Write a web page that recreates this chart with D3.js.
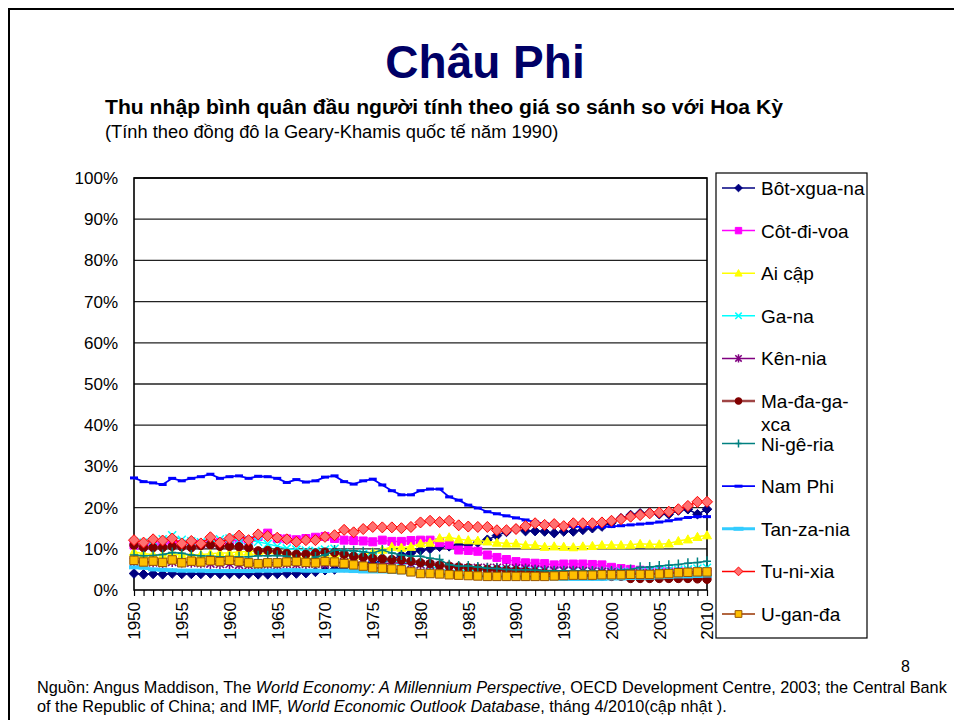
<!DOCTYPE html>
<html>
<head>
<meta charset="utf-8">
<script src="https://cdn.jsdelivr.net/npm/d3@7"></script>
<style>
  body { margin: 0; background: #fff; font-family: Arial, "Liberation Sans", sans-serif; }
</style>
</head>
<body>
<script>
// Data (percent of US GDP per capita, 1950-2010)
const years = d3.range(1950, 2011);

const botswana = [4.0, 3.8, 3.9, 3.8, 4.0, 3.9, 3.9, 3.9, 4.0, 3.9, 3.9, 3.9, 3.9, 3.8, 3.8, 3.9, 4.0, 4.0, 4.1, 4.4,
  4.8, 5.0, 5.5, 6.0, 6.3, 6.8, 7.0, 7.3, 8.5, 9.0, 9.6, 10.0, 10.5, 10.6, 11.0, 11.0, 11.5, 12.2, 13.2, 14.1,
  14.8, 14.3, 14.3, 14.2, 13.8, 14.2, 14.2, 14.6, 15.0, 15.4, 16.3, 17.4, 18.2, 18.6, 18.8, 18.4, 18.4, 19.3, 19.6, 18.4, 19.6];
const coteDivoire = [10.9, 10.8, 11.0, 11.2, 11.5, 11.0, 11.3, 11.2, 11.4, 11.5, 11.9, 12.2, 12.0, 13.0, 13.8, 12.5, 12.4, 12.2, 12.5, 12.8,
  13.0, 12.5, 12.1, 12.0, 11.9, 11.7, 12.1, 11.8, 11.8, 12.0, 12.1, 12.1, 11.5, 11.0, 9.7, 9.6, 9.4, 8.5, 7.9, 7.4,
  6.9, 6.6, 6.5, 6.4, 6.1, 6.3, 6.3, 6.3, 6.2, 6.1, 5.5, 5.2, 5.0, 4.8, 4.7, 4.6, 4.5, 4.5, 4.4, 4.4, 4.3];
const egypt = [9.3, 8.8, 8.6, 8.5, 8.7, 8.5, 8.5, 8.6, 8.8, 9.0, 9.0, 9.3, 9.3, 9.5, 9.7, 9.6, 9.2, 8.8, 8.5, 8.4,
  8.3, 8.3, 8.2, 8.2, 8.5, 9.2, 9.8, 10.5, 10.3, 10.5, 11.3, 11.5, 12.6, 12.8, 12.3, 12.1, 12.0, 11.8, 11.5, 11.3,
  11.3, 10.9, 10.9, 10.5, 10.6, 10.5, 10.4, 10.6, 10.7, 10.9, 10.9, 10.9, 11.0, 11.2, 11.1, 11.1, 11.3, 11.9, 12.3, 12.9, 13.3];
const ghana = [11.7, 11.5, 11.9, 12.3, 13.3, 12.2, 11.8, 11.6, 11.4, 12.3, 12.5, 12.2, 12.0, 11.7, 11.2, 10.6, 10.1, 9.8, 9.6, 9.5,
  9.8, 10.0, 9.0, 8.6, 8.8, 7.8, 7.2, 7.0, 6.9, 6.4, 6.2, 5.8, 5.1, 4.7, 4.8, 4.8, 4.8, 4.8, 4.8, 4.8,
  4.6, 4.6, 4.6, 4.6, 4.6, 4.6, 4.5, 4.5, 4.5, 4.5, 4.4, 4.4, 4.4, 4.5, 4.6, 4.7, 4.8, 4.9, 5.0, 5.2, 5.4];
const kenya = [6.8, 6.6, 6.7, 6.5, 6.8, 6.7, 6.6, 6.5, 6.4, 6.3, 6.3, 6.1, 6.0, 6.1, 6.2, 6.0, 6.3, 6.2, 6.3, 6.4,
  6.4, 6.6, 6.8, 6.8, 6.6, 6.4, 6.3, 6.6, 6.5, 6.3, 6.2, 6.1, 5.9, 5.6, 5.4, 5.3, 5.4, 5.4, 5.4, 5.3,
  5.3, 5.2, 5.0, 4.8, 4.7, 4.7, 4.7, 4.6, 4.5, 4.4, 4.3, 4.2, 4.1, 4.0, 4.0, 4.1, 4.1, 4.2, 4.0, 3.9, 3.9];
const madagascar = [10.9, 10.3, 10.3, 10.3, 10.6, 10.5, 10.3, 10.8, 11.0, 10.6, 10.6, 10.5, 10.3, 9.5, 9.6, 9.3, 8.9, 8.7, 8.7, 8.9,
  9.2, 9.1, 8.7, 8.2, 8.0, 7.7, 7.6, 7.4, 7.3, 7.0, 6.6, 6.4, 6.0, 5.8, 5.6, 5.4, 5.2, 5.0, 4.9, 4.8,
  4.7, 4.5, 4.3, 4.1, 3.9, 3.8, 3.6, 3.5, 3.4, 3.3, 3.3, 3.3, 2.8, 2.8, 2.8, 2.8, 2.8, 2.8, 2.8, 2.7, 2.6];
const nigeria = [8.5, 8.3, 8.4, 8.6, 9.1, 8.9, 8.5, 8.3, 8.2, 8.1, 8.1, 8.0, 8.1, 8.3, 8.3, 8.4, 8.2, 7.4, 7.0, 8.0,
  8.5, 9.7, 9.6, 9.5, 9.3, 9.0, 9.7, 9.0, 8.5, 8.2, 8.2, 7.7, 7.4, 6.1, 5.8, 5.8, 5.6, 5.3, 5.2, 5.0,
  4.9, 4.9, 4.8, 4.7, 4.6, 4.6, 4.6, 4.6, 4.6, 4.5, 4.6, 4.8, 5.0, 5.5, 5.6, 5.8, 6.0, 6.2, 6.5, 6.7, 7.0];
const southAfrica = [27.2, 26.3, 26.0, 25.6, 27.1, 26.5, 27.1, 27.5, 28.1, 27.1, 27.5, 27.7, 27.1, 27.6, 27.5, 27.1, 26.1, 26.8, 26.2, 26.5,
  27.4, 27.7, 26.3, 25.7, 26.5, 26.9, 25.5, 24.1, 23.1, 23.1, 24.1, 24.5, 24.5, 22.6, 21.8, 20.6, 19.9, 19.0, 18.5, 18.0,
  17.5, 17.0, 16.5, 16.1, 15.8, 15.5, 15.4, 15.3, 15.3, 15.3, 15.4, 15.6, 15.8, 16.0, 16.2, 16.5, 16.8, 17.2, 17.6, 17.8, 17.8];
const tanzania = [5.5, 5.4, 5.0, 4.9, 4.8, 4.7, 4.7, 4.7, 4.6, 4.6, 4.6, 4.6, 4.6, 4.7, 4.7, 4.7, 4.8, 4.8, 4.7, 4.7,
  4.6, 4.7, 4.7, 4.6, 4.5, 4.5, 4.5, 4.4, 4.3, 4.2, 4.1, 3.9, 3.8, 3.6, 3.5, 3.4, 3.3, 3.3, 3.3, 3.2,
  3.2, 3.1, 3.0, 2.9, 2.8, 2.7, 2.7, 2.7, 2.7, 2.7, 2.8, 2.8, 2.9, 3.0, 3.0, 3.1, 3.2, 3.3, 3.3, 3.4, 3.5];
const tunisia = [12.1, 11.5, 12.3, 12.0, 12.5, 11.3, 11.9, 11.3, 12.8, 11.5, 12.5, 13.2, 12.1, 13.5, 13.1, 12.7, 12.3, 11.7, 12.1, 12.1,
  12.9, 13.3, 14.6, 14.0, 14.8, 15.3, 15.2, 15.2, 15.0, 15.3, 16.4, 16.8, 16.5, 16.8, 15.7, 15.4, 15.3, 15.3, 14.5, 14.5,
  14.8, 15.5, 16.2, 15.8, 16.0, 15.5, 16.2, 16.2, 16.2, 16.4, 16.8, 17.2, 17.8, 18.2, 18.6, 18.8, 19.0, 19.6, 20.4, 21.4, 21.4];
const uganda = [7.2, 6.8, 7.0, 6.7, 7.3, 6.6, 7.0, 6.8, 7.1, 6.9, 7.2, 6.9, 6.6, 6.4, 6.6, 6.6, 6.8, 6.9, 6.7, 6.6,
  6.9, 6.8, 6.4, 6.1, 5.8, 5.4, 5.3, 5.1, 4.9, 4.4, 4.0, 4.0, 3.9, 3.7, 3.6, 3.5, 3.4, 3.3, 3.3, 3.3,
  3.3, 3.3, 3.3, 3.3, 3.4, 3.5, 3.6, 3.6, 3.6, 3.7, 3.7, 3.7, 3.8, 3.8, 3.8, 3.9, 4.0, 4.2, 4.3, 4.4, 4.4];

const yTicks = d3.range(0, 101, 10);

// series table for drawing (r = marker half size)
const series = [
  { name: ["Bôt-xgua-na"], values: botswana, line: "#000080", lw: 1.5, mk: "diamond", r: 4.8, fill: "#000080", stroke: "#000080" },
  { name: ["Côt-đi-voa"], values: coteDivoire, line: "#ff00ff", lw: 1.5, mk: "square", r: 4, fill: "#ff00ff", stroke: "#ff00ff" },
  { name: ["Ai cập"], values: egypt, line: "#ffff00", lw: 1.5, mk: "triangle", r: 4.5, fill: "#ffff00", stroke: "#ffff00" },
  { name: ["Ga-na"], values: ghana, line: "#00ffff", lw: 1.5, mk: "x", r: 4, fill: "none", stroke: "#00ffff" },
  { name: ["Kên-nia"], values: kenya, line: "#800080", lw: 1.5, mk: "star", r: 4, fill: "none", stroke: "#800080" },
  { name: ["Ma-đa-ga-", "xca"], values: madagascar, line: "#a04545", lw: 2.5, mk: "circle", r: 4.2, fill: "#800000", stroke: "#800000" },
  { name: ["Ni-gê-ria"], values: nigeria, line: "#008080", lw: 1.5, mk: "plus", r: 5, fill: "none", stroke: "#008080" },
  { name: ["Nam Phi"], values: southAfrica, line: "#0000ff", lw: 1.8, mk: "dash", r: 3, fill: "#0000ff", stroke: "none" },
  { name: ["Tan-za-nia"], values: tanzania, line: "#33ccff", lw: 3, mk: "dash", r: 4, fill: "#33ccff", stroke: "none" },
  { name: ["Tu-ni-xia"], values: tunisia, line: "#ff0000", lw: 1.5, mk: "diamond", r: 5.5, fill: "#ff7070", stroke: "#ff0000" },
  { name: ["U-gan-đa"], values: uganda, line: "#993300", lw: 1.5, mk: "square", r: 4.2, fill: "#ffbf00", stroke: "#995500" }
];

const w = 954, h = 720;
const plot = { left: 134, right: 707, top: 178, bottom: 590 };

const svg = d3.select("body").append("svg")
  .attr("width", w)
  .attr("height", h)
  .style("display", "block");

// slide frame
svg.append("path")
  .attr("d", `M9,${h}V9H${w}`)
  .attr("fill", "none")
  .attr("stroke", "#000")
  .attr("stroke-width", 2);

// titles
svg.append("text")
  .attr("x", 485).attr("y", 78)
  .attr("text-anchor", "middle")
  .attr("font-size", 46).attr("font-weight", "bold")
  .attr("fill", "#000066")
  .text("Châu Phi");

svg.append("text")
  .attr("x", 105).attr("y", 114)
  .attr("font-size", 19.5).attr("font-weight", "bold")
  .attr("textLength", 678).attr("lengthAdjust", "spacingAndGlyphs")
  .text("Thu nhập bình quân đầu người tính theo giá so sánh so với Hoa Kỳ");

svg.append("text")
  .attr("x", 105).attr("y", 138)
  .attr("font-size", 18.3)
  .text("(Tính theo đồng đô la Geary-Khamis quốc tế năm 1990)");

// scales
const x = d3.scaleLinear().domain([1950, 2010]).range([plot.left, plot.right]);
const y = d3.scaleLinear().domain([0, 100]).range([plot.bottom, plot.top]);

// gridlines
svg.append("g")
  .selectAll("line")
  .data(yTicks.filter(d => d > 0))
  .join("line")
  .attr("x1", plot.left).attr("x2", plot.right)
  .attr("y1", d => y(d)).attr("y2", d => y(d))
  .attr("stroke", "#222").attr("stroke-width", 1.3);

// y axis
const yAxis = svg.append("g")
  .attr("transform", `translate(${plot.left},0)`)
  .call(d3.axisLeft(y).tickValues(yTicks).tickFormat(d => d + "%").tickSize(0).tickPadding(16));
yAxis.select(".domain").remove();
yAxis.selectAll("text").attr("font-size", 17).attr("font-family", "Arial, 'Liberation Sans', sans-serif").attr("fill", "#000");

// x axis
const xAxis = svg.append("g")
  .attr("transform", `translate(0,${plot.bottom})`)
  .call(d3.axisBottom(x).tickValues(years).tickSize(6).tickFormat(d => d % 5 === 0 ? d : ""));
xAxis.select(".domain").remove();
xAxis.selectAll(".tick line").attr("stroke", "#000").attr("stroke-width", 1.2);
xAxis.selectAll("text")
  .attr("font-size", 17)
  .attr("font-family", "Arial, 'Liberation Sans', sans-serif")
  .attr("fill", "#000")
  .attr("transform", "rotate(-90)")
  .attr("x", -12).attr("y", 0).attr("dy", "0.35em")
  .style("text-anchor", "end");

// plot frame
svg.append("rect")
  .attr("x", plot.left).attr("y", plot.top)
  .attr("width", plot.right - plot.left).attr("height", plot.bottom - plot.top)
  .attr("fill", "none").attr("stroke", "#000").attr("stroke-width", 1.6);

// marker drawing
function marker(sel, s, k) {
  let d;
  if (s.mk === "diamond") d = `M0,${-k}L${k},0L0,${k}L${-k},0Z`;
  else if (s.mk === "square") d = `M${-k},${-k}H${k}V${k}H${-k}Z`;
  else if (s.mk === "triangle") d = `M0,${-k}L${k},${k * 0.8}H${-k}Z`;
  else if (s.mk === "circle") d = d3.symbol(d3.symbolCircle, Math.PI * k * k)();
  else if (s.mk === "x") d = `M${-k},${-k}L${k},${k}M${-k},${k}L${k},${-k}`;
  else if (s.mk === "star") d = `M${-k},${-k}L${k},${k}M${-k},${k}L${k},${-k}M0,${-k - 1}V${k + 1}`;
  else if (s.mk === "plus") d = `M${-k + 1},0H${k - 1}M0,${-k}V${k}`;
  else if (s.mk === "dash") d = `M${-k - 1},${-k / 2}H${k + 1}V${k / 2}H${-k - 1}Z`;
  sel.append("path")
    .attr("d", d)
    .attr("fill", s.fill)
    .attr("stroke", s.stroke)
    .attr("stroke-width", s.fill === "none" ? 1.5 : 1);
}

const line = d3.line().x((d, i) => x(years[i])).y(d => y(d));

series.forEach(s => {
  const g = svg.append("g");
  g.append("path")
    .datum(s.values)
    .attr("d", line)
    .attr("fill", "none")
    .attr("stroke", s.line)
    .attr("stroke-width", s.lw);
  g.selectAll("g.m")
    .data(s.values)
    .join("g")
    .attr("class", "m")
    .attr("transform", (d, i) => `translate(${x(years[i])},${y(d)})`)
    .each(function () { marker(d3.select(this), s, s.r); });
});

// legend
const legend = svg.append("g");
legend.append("rect")
  .attr("x", 716).attr("y", 173).attr("width", 151).attr("height", 465)
  .attr("fill", "#fff").attr("stroke", "#000").attr("stroke-width", 1.2);

series.forEach((s, i) => {
  const cy = 188 + i * 42.6;
  const g = legend.append("g");
  g.append("line")
    .attr("x1", 722).attr("x2", 755).attr("y1", cy).attr("y2", cy)
    .attr("stroke", s.line).attr("stroke-width", s.lw);
  const m = g.append("g").attr("transform", `translate(738.5,${cy})`);
  marker(m, s, s.mk === "dash" ? s.r : s.r * 0.8);
  s.name.forEach((t, j) => {
    g.append("text")
      .attr("x", 761).attr("y", cy + 7 + j * 23)
      .attr("font-size", 19)
      .text(t);
  });
});

// source note
const note = svg.append("g").attr("font-size", 16.3);
const l1 = note.append("text").attr("x", 37).attr("y", 693);
l1.append("tspan").text("Nguồn: Angus Maddison, The ");
l1.append("tspan").attr("font-style", "italic").text("World Economy: A Millennium Perspective");
l1.append("tspan").text(", OECD Development Centre, 2003; the Central Bank");
const l2 = note.append("text").attr("x", 37).attr("y", 712);
l2.append("tspan").text("of the Republic of China; and IMF, ");
l2.append("tspan").attr("font-style", "italic").text("World Economic Outlook Database");
l2.append("tspan").text(", tháng 4/2010(cập nhật ).");

// slide number
svg.append("text")
  .attr("x", 901).attr("y", 672)
  .attr("font-size", 16)
  .text("8");
</script>
</body>
</html>
